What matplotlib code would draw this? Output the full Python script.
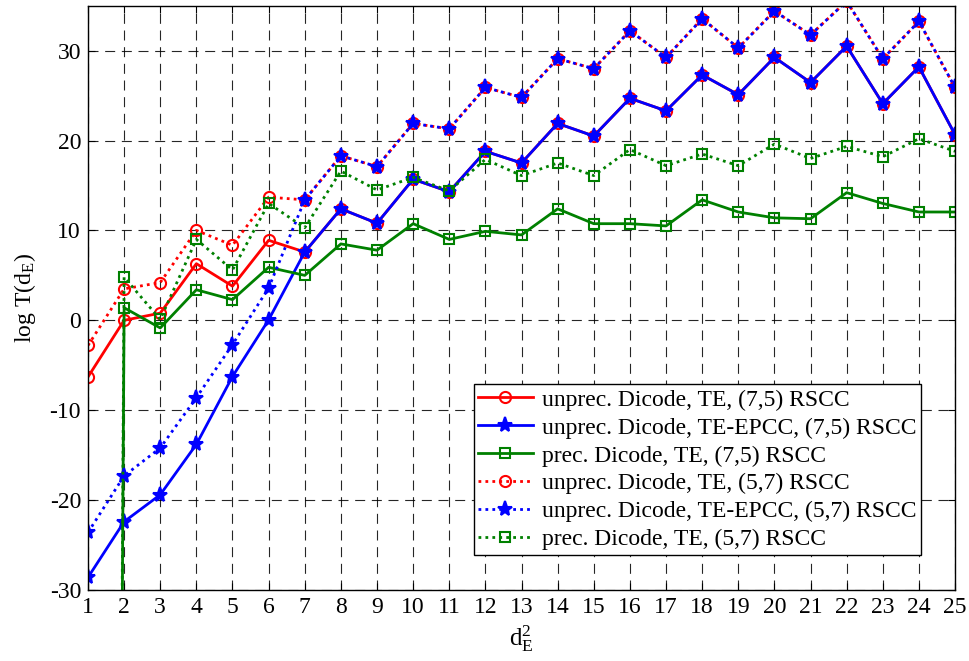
import numpy as np
import matplotlib
matplotlib.use("Agg")
import matplotlib.pyplot as plt

# ---------- Data ----------
d2 = list(range(1, 26))

# (7,5) RSCC
te_unprec_75 = [-6.3, 0.0, 0.8, 6.3, 3.8, 8.9, 7.6, 12.4, 10.8, 15.7, 14.3, 18.8, 17.5,
                21.9, 20.5, 24.7, 23.3, 27.3, 25.1, 29.25, 26.45, 30.5, 24.1, 28.2, 20.65]
epcc_unprec_75 = [-28.6, -22.4, -19.4, -13.8, -6.25, 0.05, 7.6, 12.4, 10.8, 15.7, 14.3, 18.8, 17.5,
                  21.9, 20.5, 24.7, 23.3, 27.3, 25.1, 29.25, 26.45, 30.5, 24.1, 28.2, 20.65]
te_prec_75 = [-650, 1.4, -0.85, 3.4, 2.3, 5.9, 5.0, 8.5, 7.8, 10.75, 9.0, 9.9, 9.5,
              12.4, 10.75, 10.75, 10.5, 13.4, 12.05, 11.4, 11.3, 14.2, 13.0, 12.05, 12.05]

# (5,7) RSCC
te_unprec_57 = [-2.8, 3.5, 4.2, 10.0, 8.35, 13.7, 13.4, 18.3, 17.1, 21.9, 21.3, 25.9, 24.8,
                29.1, 28.0, 32.2, 29.25, 33.55, 30.3, 34.4, 31.75, 35.5, 29.1, 33.25, 25.9]
epcc_unprec_57 = [-23.6, -17.3, -14.2, -8.6, -2.7, 3.6, 13.4, 18.3, 17.1, 21.9, 21.3, 25.9, 24.8,
                  29.1, 28.0, 32.2, 29.25, 33.55, 30.3, 34.4, 31.75, 35.5, 29.1, 33.25, 25.9]
te_prec_57 = [-650, 4.8, 0.1, 9.0, 5.6, 13.0, 10.3, 16.6, 14.5, 15.9, 14.4, 17.9, 16.1,
              17.5, 16.1, 19.0, 17.2, 18.5, 17.2, 19.6, 18.0, 19.35, 18.2, 20.2, 18.8]

labels = [
    "unprec. Dicode, TE, (7,5) RSCC",
    "unprec. Dicode, TE-EPCC, (7,5) RSCC",
    "prec. Dicode, TE, (7,5) RSCC",
    "unprec. Dicode, TE, (5,7) RSCC",
    "unprec. Dicode, TE-EPCC, (5,7) RSCC",
    "prec. Dicode, TE, (5,7) RSCC",
]

# ---------- Style ----------
plt.rcParams["font.family"] = ["Liberation Serif", "DejaVu Serif"]
plt.rcParams["mathtext.fontset"] = "custom"
plt.rcParams["mathtext.rm"] = "Liberation Serif"
plt.rcParams["mathtext.it"] = "Liberation Serif:italic"
plt.rcParams["axes.unicode_minus"] = False

RED, BLUE, GREEN = "#ff0000", "#0000ff", "#008000"
DOT = (0, (1, 1.5))
FS = 17

fig = plt.figure(figsize=(9.69, 6.61), dpi=100)
ax = fig.add_axes([0.0908, 0.1074, 0.8948, 0.884])

series = [
    (te_unprec_75, RED, "-", "o", 8, "none"),
    (epcc_unprec_75, BLUE, "-", "*", 11, BLUE),
    (te_prec_75, GREEN, "-", "s", 7, "none"),
    (te_unprec_57, RED, DOT, "o", 8, "none"),
    (epcc_unprec_57, BLUE, DOT, "*", 11, BLUE),
    (te_prec_57, GREEN, DOT, "s", 7, "none"),
]
for (vals, col, ls, mk, ms, fc), lab in zip(series, labels):
    ax.plot(d2, vals, color=col, linestyle=ls, linewidth=2, marker=mk,
            markersize=ms, markerfacecolor=fc, markeredgecolor=col,
            markeredgewidth=1.5, label=lab)

ax.set_xlim(1, 25)
ax.set_ylim(-30, 35)
ax.set_xticks(d2)
ax.set_yticks(np.arange(-30, 31, 10))
ax.tick_params(direction="in", top=True, right=True, labelsize=FS, length=5, pad=5)
ax.grid(True, color="black", linestyle=(0, (9, 6)), linewidth=0.8, alpha=0.85)
for sp in ax.spines.values():
    sp.set_linewidth(1.0)

ax.set_xlabel(r"$\mathregular{d_E^2}$", fontsize=FS + 1, labelpad=4)
ax.set_ylabel(r"log T(d$\mathregular{_E}$)", fontsize=FS, labelpad=8)

leg = ax.legend(loc="lower right", bbox_to_anchor=(0.961, 0.06), borderaxespad=0,
                fontsize=FS, numpoints=1, handlelength=2.3, handletextpad=0.4,
                labelspacing=0.27, borderpad=0.2, fancybox=False, framealpha=1)
leg.get_frame().set_edgecolor("black")
leg.get_frame().set_linewidth(1.0)

fig.savefig("out.png", dpi=100)
